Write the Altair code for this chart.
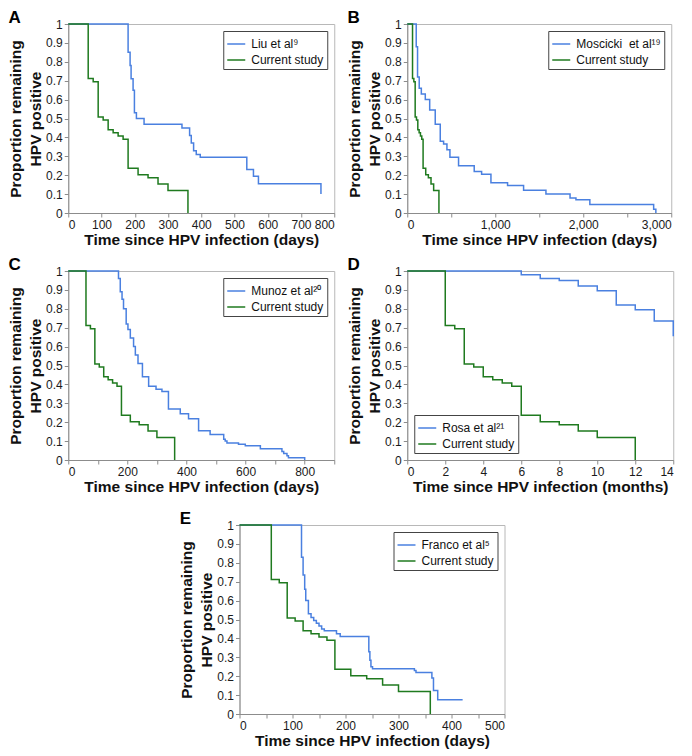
import altair as alt
import pandas as pd

BLUE = "#4a80e0"
GREEN = "#1f7a1f"
FONT = "Liberation Sans"

# Current study (days) and same in months for panel D
cur_days = [0, 60, 75, 90, 105, 120, 135, 150, 165, 180, 210, 240, 270, 300, 360]
cur_months = [0, 2, 2.5, 3, 3.5, 4, 4.5, 5, 5.5, 6, 7, 8, 9, 10, 12]
cur_surv = [1, 0.712, 0.695, 0.508, 0.492, 0.441, 0.424, 0.407, 0.39, 0.237, 0.203, 0.186, 0.153, 0.119, 0]

# A: Liu et al
liu_t = [0, 180, 186, 189, 195, 199, 205, 228, 342, 365, 370, 377, 385, 397, 537, 557, 572, 760]
liu_s = [1, 0.85, 0.78, 0.71, 0.65, 0.53, 0.50, 0.47, 0.45, 0.41, 0.37, 0.33, 0.31, 0.295, 0.23, 0.195, 0.155, 0.10]

# B: Moscicki et al
mos_t = [0, 102, 117, 136, 160, 205, 255, 318, 375, 413, 451, 485, 583, 761, 845, 951,
         1140, 1322, 1576, 1850, 1917, 2075, 2800, 2825]
mos_s = [1, 0.88, 0.72, 0.66, 0.63, 0.60, 0.545, 0.47, 0.38, 0.365, 0.335, 0.295, 0.25, 0.22, 0.205, 0.16,
         0.145, 0.12, 0.10, 0.08, 0.07, 0.045, 0.02, 0]

# C: Munoz et al
mun_t = [0, 170, 176, 182, 187, 196, 202, 210, 221, 227, 236, 251, 272, 297, 317, 339, 379, 407, 441,
         480, 526, 531, 537, 576, 599, 650, 723, 729, 740, 745, 800]
mun_s = [1, 0.96, 0.89, 0.85, 0.80, 0.72, 0.69, 0.645, 0.60, 0.555, 0.51, 0.44, 0.39, 0.375, 0.362, 0.27, 0.245, 0.218,
         0.155, 0.135, 0.11, 0.10, 0.09, 0.083, 0.075, 0.06, 0.045, 0.035, 0.022, 0.012, 0]

# D: Rosa et al (months)
ros_t = [0, 6, 7, 8, 9, 10, 11, 12, 13, 14]
ros_s = [1, 0.98, 0.96, 0.95, 0.92, 0.895, 0.82, 0.795, 0.735, 0.655]

# E: Franco et al
fra_t = [0, 117, 120, 123, 125, 130, 135, 140, 145, 150, 155, 160, 183, 190, 244, 246, 248, 251,
         330, 333, 363, 366, 374, 421]
fra_s = [1, 0.83, 0.735, 0.66, 0.60, 0.53, 0.51, 0.495, 0.48, 0.465, 0.45, 0.44, 0.425, 0.41, 0.33, 0.285, 0.25, 0.24,
         0.23, 0.22, 0.19, 0.125, 0.075, 0.075]

y_ticks = [0, 0.1, 0.2, 0.3, 0.4, 0.5, 0.6, 0.7, 0.8, 0.9, 1]
a_ticks = [0, 100, 200, 300, 400, 500, 600, 700, 800]
b_ticks = [0, 500, 1000, 1500, 2000, 2500, 3000]
c_ticks = [0, 100, 200, 300, 400, 500, 600, 700, 800, 900]
d_ticks = [0, 2, 4, 6, 8, 10, 12, 14]
e_ticks = [0, 50, 100, 150, 200, 250, 300, 350, 400, 450, 500]

Y_TITLE = ["Proportion remaining", "HPV positive"]


def panel(letter, label, st, ss, ct, cs, xticks, xfmt, xtitle, lorient, w, h):
    df = pd.DataFrame({
        "t": list(st) + list(ct),
        "s": list(ss) + list(cs),
        "series": [label] * len(st) + ["Current study"] * len(ct),
    })
    return alt.Chart(
        df,
        title=alt.TitleParams(letter, anchor="start", fontSize=17, font=FONT,
                              fontWeight="bold", offset=-9, color="#000000"),
    ).mark_line(interpolate="step-after", strokeWidth=1.5).encode(
        x=alt.X("t:Q", scale=alt.Scale(domain=[xticks[0], xticks[-1]], nice=False),
                axis=alt.Axis(values=xticks, format=xfmt, title=xtitle)),
        y=alt.Y("s:Q", scale=alt.Scale(domain=[0, 1], nice=False),
                axis=alt.Axis(values=y_ticks, format=".1~f", title=Y_TITLE)),
        color=alt.Color("series:N",
                        scale=alt.Scale(domain=[label, "Current study"], range=[BLUE, GREEN]),
                        legend=alt.Legend(orient=lorient, title=None)),
    ).properties(width=w, height=h)


A = panel("A", "Liu et al⁹", liu_t, liu_s, cur_days, cur_surv, a_ticks, "d",
          "Time since HPV infection (days)", "top-right", 266, 189)
B = panel("B", "Moscicki\u00a0 et al¹⁹", mos_t, mos_s, cur_days, cur_surv, b_ticks, ",d",
          "Time since HPV infection (days)", "top-right", 264, 189)
C = panel("C", "Munoz et al²⁰", mun_t, mun_s, cur_days, cur_surv, c_ticks, "d",
          "Time since HPV infection (days)", "top-right", 266, 189)
D = panel("D", "Rosa et al²¹", ros_t, ros_s, cur_months, cur_surv, d_ticks, "d",
          "Time since HPV infection (months)", "bottom-left", 266, 189)
E = panel("E", "Franco et al⁵", fra_t, fra_s, cur_days, cur_surv, e_ticks, "d",
          "Time since HPV infection (days)", "top-right", 265, 189)

row1 = alt.hconcat(A, B, spacing=11).resolve_scale(color="independent")
row2 = alt.hconcat(C, D, spacing=11).resolve_scale(color="independent")
upper = alt.vconcat(row1, row2, spacing=7).resolve_scale(color="independent")

chart = alt.vconcat(upper, E, spacing=14, center=True).resolve_scale(
    color="independent"
).properties(padding=0).configure_view(
    stroke="#b8b8b8", strokeWidth=1
).configure_axis(
    grid=False, domainColor="#8c8c8c", tickColor="#8c8c8c", tickSize=4,
    labelFont=FONT, labelFontSize=12, labelColor="#1a1a1a", labelPadding=2,
    titleFont=FONT, titleFontSize=15.5, titleFontWeight="bold", titleColor="#111111",
).configure_axisX(
    titlePadding=2
).configure_axisY(
    titlePadding=2, titleLineHeight=20
).configure_legend(
    strokeColor="#444444", fillColor="white", padding=3, offset=7,
    labelFont=FONT, labelFontSize=12, labelColor="#111111", rowPadding=0,
    symbolType="stroke", symbolSize=324, symbolStrokeWidth=1.5, labelOffset=5,
)

chart.save("out.html", embed_options={"renderer": "svg", "actions": False})
